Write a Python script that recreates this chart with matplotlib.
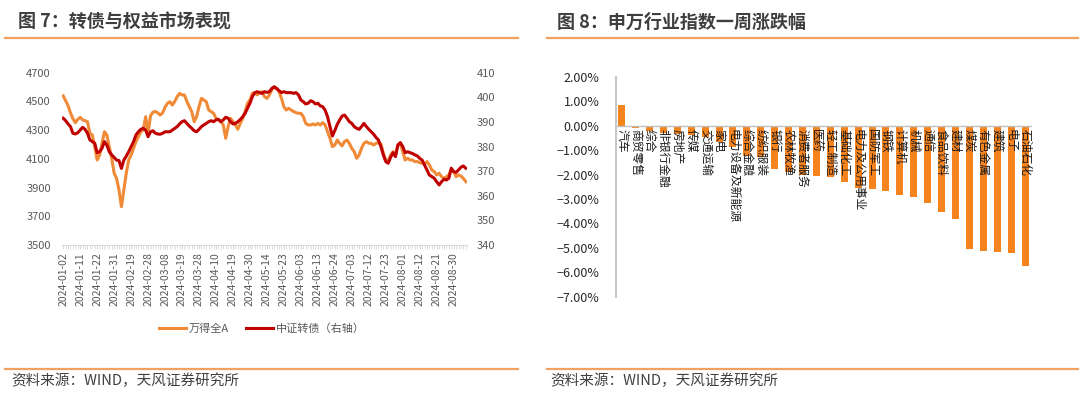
import matplotlib.pyplot as plt
import numpy as np
import pandas as pd
from matplotlib.lines import Line2D
from matplotlib.ticker import FuncFormatter

plt.rcParams['font.family'] = ['Noto Sans CJK SC', 'DejaVu Sans']

# trading calendar (SSE 2024)
holidays = ['2024-02-09', '2024-02-12', '2024-02-13', '2024-02-14', '2024-02-15',
            '2024-02-16', '2024-04-04', '2024-04-05', '2024-05-01', '2024-05-02',
            '2024-05-03', '2024-06-10']
dates = pd.bdate_range('2024-01-02', '2024-09-06', freq='C', holidays=holidays)
date_labels = [d.strftime('%Y-%m-%d') for d in dates]

# 万得全A (left axis)
wind_a = [
    4538, 4505, 4470, 4420, 4380, 4352, 4375, 4389, 4371, 4366,
    4359, 4278, 4266, 4185, 4092, 4127, 4208, 4289, 4266, 4185,
    4104, 4000, 3964, 3883, 3767, 3883, 4000, 4092, 4127, 4173,
    4220, 4254, 4289, 4301, 4394, 4278, 4400, 4425, 4430, 4420,
    4405, 4420, 4460, 4487, 4498, 4475, 4500, 4533, 4556, 4545,
    4545, 4500, 4463, 4429, 4359, 4394, 4463, 4521, 4510, 4498,
    4440, 4429, 4417, 4382, 4375, 4359, 4336, 4243, 4324, 4382,
    4360, 4336, 4306, 4347, 4382, 4429, 4487, 4510, 4556, 4561,
    4545, 4561, 4568, 4533, 4521, 4545, 4580, 4598, 4590, 4568,
    4521, 4463, 4440, 4452, 4440, 4429, 4422, 4417, 4417, 4394,
    4347, 4336, 4336, 4343, 4336, 4347, 4336, 4352, 4336, 4289,
    4243, 4185, 4196, 4231, 4208, 4190, 4220, 4231, 4208, 4173,
    4150, 4104, 4127, 4173, 4208, 4220, 4208, 4208, 4196, 4208,
    4213, 4204, 4139, 4092, 4081, 4127, 4150, 4127, 4196, 4208,
    4150, 4092, 4104, 4092, 4092, 4081, 4081, 4074, 4069, 4064,
    4081, 4057, 4022, 4011, 3988, 4000, 3976, 3964, 3976, 3988,
    4022, 4011, 3976, 3988, 3980, 3964, 3941,
]

# 中证转债 (right axis)
cb_index = [
    391.5, 390.5, 389.2, 388.1, 385.4, 385.1, 385.6, 386.7, 387.8, 387.0,
    385.4, 382.7, 382.0, 381.3, 377.5, 377.9, 379.3, 382.0, 380.6, 377.9,
    376.6, 375.6, 374.5, 374.3, 371.1, 374.5, 376.1, 377.9, 380.0, 382.0,
    384.7, 386.0, 387.0, 387.4, 386.7, 384.0, 386.0, 386.4, 385.4, 385.1,
    385.0, 385.4, 386.0, 386.0, 386.0, 386.7, 387.4, 388.1, 389.2, 390.1,
    390.5, 389.4, 388.3, 387.4, 386.4, 386.0, 387.0, 388.1, 388.8, 389.4,
    390.1, 390.5, 390.1, 390.8, 391.0, 390.1, 390.8, 391.9, 391.5, 390.1,
    389.2, 389.4, 390.1, 391.0, 392.1, 393.5, 395.5, 397.6, 400.3, 401.9,
    402.3, 401.9, 401.6, 402.3, 402.0, 402.3, 403.6, 404.3, 403.6, 402.7,
    401.9, 402.3, 401.9, 401.9, 401.9, 401.6, 401.9, 401.0, 398.9, 398.2,
    397.3, 397.6, 398.6, 398.2, 397.3, 397.6, 396.5, 396.2, 394.8, 392.1,
    388.1, 384.3, 386.5, 389.0, 390.8, 392.4, 392.8, 391.5, 390.1, 389.4,
    388.1, 387.4, 387.0, 388.1, 389.4, 388.1, 387.0, 386.0, 385.0, 383.7,
    382.6, 380.0, 376.6, 373.9, 373.2, 375.6, 377.5, 375.9, 380.6, 381.6,
    380.0, 377.5, 377.9, 377.5, 377.2, 376.6, 376.2, 375.2, 374.5, 372.5,
    370.5, 368.4, 367.8, 367.1, 365.7, 364.4, 365.7, 366.7, 366.4, 367.1,
    371.2, 369.8, 369.5, 370.5, 371.6, 372.1, 371.2,
]

industries = ['汽车', '商贸零售', '综合', '非银行金融', '房地产', '传媒', '交通运输', '家电',
              '电力设备及新能源', '综合金融', '纺织服装', '银行', '农林牧渔', '消费者服务',
              '医药', '轻工制造', '基础化工', '电力及公用事业', '国防军工', '钢铁', '计算机',
              '机械', '通信', '食品饮料', '建材', '煤炭', '有色金属', '建筑', '电子', '石油石化']
weekly_chg = [0.84, -0.10, -0.22, -0.28, -0.32, -0.38, -0.48, -0.65,
              -0.85, -1.25, -1.30, -1.78, -1.90, -2.03,
              -2.05, -2.10, -2.30, -2.55, -2.60, -2.67, -2.85,
              -2.92, -3.15, -3.53, -3.82, -5.06, -5.13, -5.19, -5.21, -5.76]

W, H = 1080, 396
fig = plt.figure(figsize=(W / 100, H / 100), dpi=100)

rule_color = '#F3A15E'
title_color = '#3F3F3F'
for x0, x1, tx, title in [(5, 518, 18, '图 7：转债与权益市场表现'),
                          (547, 1078, 557, '图 8：申万行业指数一周涨跌幅')]:
    fig.text(tx / W, 1 - 22 / H, title, fontsize=13, fontweight='bold',
             color=title_color, va='center', ha='left')
    fig.add_artist(Line2D([x0 / W, x1 / W], [1 - 38 / H] * 2, color=rule_color, lw=1.6))
    fig.add_artist(Line2D([x0 / W, x1 / W], [1 - 368.5 / H] * 2, color=rule_color, lw=1.6))
    fig.text((tx - 7) / W, 1 - 381 / H, '资料来源：WIND，天风证券研究所', fontsize=10.5,
             color='#404040', va='center', ha='left')

# --- left: line chart ---
tick_grey = '#595959'
x = np.arange(len(dates))
ax1 = fig.add_axes([62 / W, 151 / H, 405 / W, 172.3 / H])
l1, = ax1.plot(x, wind_a, color='#F08A36', lw=2.2, label='万得全A')
ax1.set_ylim(3500, 4700)
ax1.set_yticks(range(3500, 4701, 200))
ax1.set_xlim(-0.5, len(x) - 0.5)
ax1.set_xticks(x[::7])
ax1.set_xticklabels(date_labels[::7], rotation=90, fontsize=7.5, color=tick_grey)
ax1.set_xticks(x, minor=True)
ax1.tick_params(axis='x', which='both', length=3, color='#D9D9D9', pad=2)
ax1.tick_params(axis='y', length=0, pad=8, labelsize=8, labelcolor=tick_grey)
for s in ['top', 'left', 'right']:
    ax1.spines[s].set_visible(False)
ax1.spines['bottom'].set_color('#D9D9D9')

ax2 = ax1.twinx()
l2, = ax2.plot(x, cb_index, color='#C00000', lw=2.2, label='中证转债（右轴）')
ax2.set_ylim(340, 410)
ax2.set_yticks(range(340, 411, 10))
ax2.tick_params(axis='y', length=0, pad=7, labelsize=8, labelcolor=tick_grey)
for s in ax2.spines.values():
    s.set_visible(False)

fig.legend(handles=[l1, l2], loc='center', bbox_to_anchor=(262 / W, 1 - 329 / H),
           ncol=2, frameon=False, fontsize=8, handlelength=2.4, columnspacing=1.5,
           handletextpad=0.3, labelcolor=tick_grey)

# --- right: bar chart ---
ax3 = fig.add_axes([616 / W, 99.5 / H, 416 / W, 219.5 / H])
pos = np.arange(len(industries))
ax3.bar(pos, weekly_chg, width=0.5, color='#F5841F')
ax3.set_ylim(-7, 2)
ax3.set_yticks(range(-7, 3))
ax3.yaxis.set_major_formatter(FuncFormatter(lambda v, _: f'{v:.2f}%'.replace('-', '\u2212')))
ax3.set_xlim(-0.41, 29.5)
ax3.set_xticks([])
ax3.tick_params(axis='y', length=0, pad=12, labelsize=9, labelcolor='#262626')
for s in ['top', 'right', 'bottom']:
    ax3.spines[s].set_visible(False)
ax3.spines['left'].set_color('#C8C8C8')
ax3.spines['left'].set_linewidth(1.5)
ax3.axhline(0, color='#BFBFBF', lw=1)
for i, name in enumerate(industries):
    ax3.annotate(name, (i, 0), xytext=(0, -2), textcoords='offset points',
                 rotation=-90, ha='center', va='top', fontsize=8.5, color='#1A1A1A')

fig.savefig('out.png', dpi=100)
